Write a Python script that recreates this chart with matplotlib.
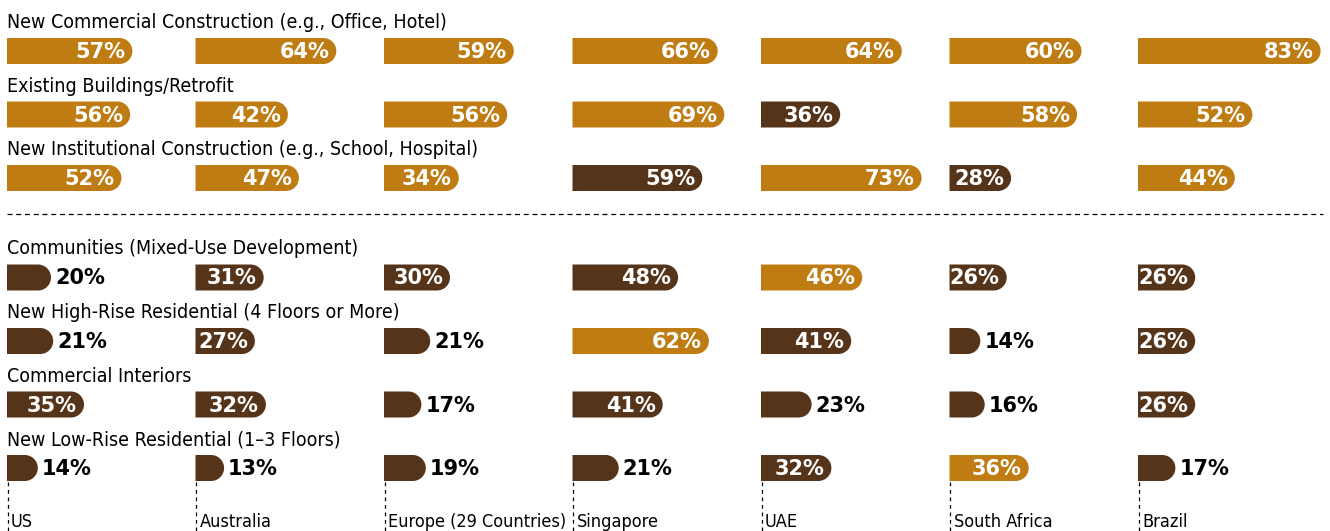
import matplotlib.pyplot as plt
from matplotlib.patches import PathPatch
from matplotlib.path import Path
import numpy as np

countries = ["US", "Australia", "Europe (29 Countries)", "Singapore", "UAE", "South Africa", "Brazil"]
categories = [
    "New Commercial Construction (e.g., Office, Hotel)",
    "Existing Buildings/Retrofit",
    "New Institutional Construction (e.g., School, Hospital)",
    "Communities (Mixed-Use Development)",
    "New High-Rise Residential (4 Floors or More)",
    "Commercial Interiors",
    "New Low-Rise Residential (1\u20133 Floors)",
]
# rows = categories, columns = countries (percent)
values = np.array([
    [57, 64, 59, 66, 64, 60, 83],
    [56, 42, 56, 69, 36, 58, 52],
    [52, 47, 34, 59, 73, 28, 44],
    [20, 31, 30, 48, 46, 26, 26],
    [21, 27, 21, 62, 41, 14, 26],
    [35, 32, 17, 41, 23, 16, 26],
    [14, 13, 19, 21, 32, 36, 17],
])

gold = "#BE7C12"
brown = "#55341A"

# layout in pixels
x0 = 7
col_step = 188.5
px_per_pct = 2.2
bar_h = 26
r = bar_h / 2
row_step = 63.5
first_center = 51
group_gap = 36


def pill(left, yc, w, r):
    # flat left end, round right end
    cx = left + w - r
    arc = Path.arc(-90, 90)
    verts = [(left, yc - r), (cx, yc - r)]
    codes = [Path.MOVETO, Path.LINETO]
    for (ux, uy), cd in zip(arc.vertices[1:], arc.codes[1:]):
        verts.append((cx + r * ux, yc + r * uy))
        codes.append(cd)
    verts += [(left, yc + r), (left, yc - r)]
    codes += [Path.LINETO, Path.CLOSEPOLY]
    return Path(verts, codes)


fig = plt.figure(figsize=(13.3, 5.31), dpi=100)
ax = fig.add_axes([0, 0, 1, 1])
ax.set_xlim(0, 1330)
ax.set_ylim(531, 0)
ax.axis("off")

lab = dict(family="DejaVu Sans", fontstretch="condensed",
           ha="left", va="baseline", color="black")

# top 3 per country in gold
ranks = (-values).argsort(axis=0).argsort(axis=0)

centers = []
for i in range(len(categories)):
    yc = first_center + i * row_step + (group_gap if i >= 3 else 0)
    centers.append(yc)
    ax.text(x0, yc - r - 10, categories[i], fontsize=14, **lab)
    for j in range(len(countries)):
        v = values[i, j]
        left = x0 + j * col_step
        w = v * px_per_pct
        c = gold if ranks[i, j] < 3 else brown
        ax.add_patch(PathPatch(pill(left, yc, w, r), facecolor=c, edgecolor="none"))
        if v >= 25:
            ax.text(left + w - 7, yc + 1, f"{v}%", color="white", fontsize=15,
                    fontweight="bold", ha="right", va="center")
        else:
            ax.text(left + w + 4, yc + 1, f"{v}%", color="black", fontsize=15,
                    fontweight="bold", ha="left", va="center")

# dashed separator between groups
sep_y = (centers[2] + centers[3]) / 2 - 14
ax.plot([x0, 1323], [sep_y, sep_y], color="black", lw=0.9, ls=(0, (4, 3)))

# country labels with dashed ticks
for j, name in enumerate(countries):
    left = x0 + j * col_step
    ax.plot([left + 0.5, left + 0.5], [centers[-1] + r + 1, 531], color="black",
            lw=0.9, ls=(0, (3, 3)))
    ax.text(left + 4, 527, name, fontsize=13, **lab)

fig.savefig("out.png", dpi=100)
